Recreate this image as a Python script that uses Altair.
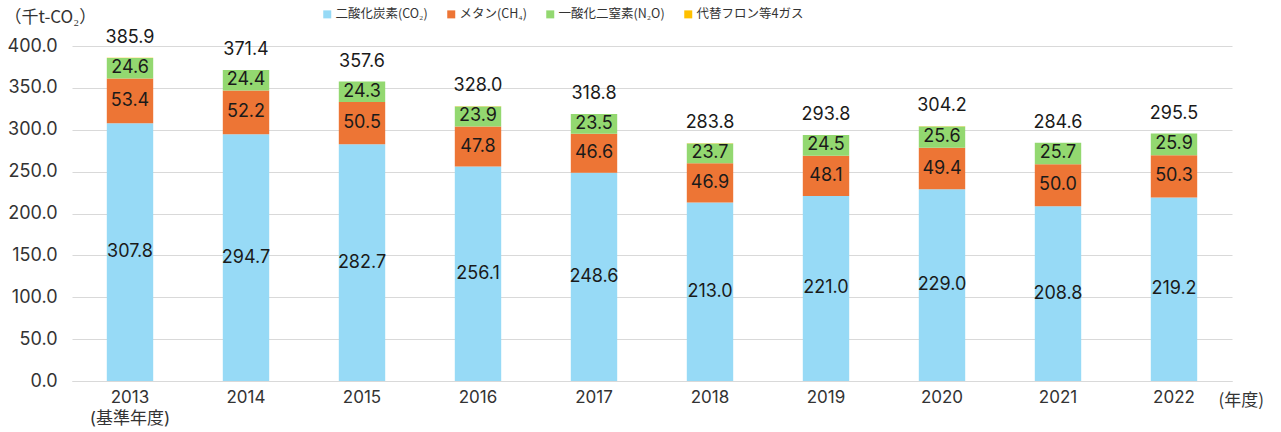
import altair as alt
import pandas as pd

years = ["2013", "2014", "2015", "2016", "2017", "2018", "2019", "2020", "2021", "2022"]
co2 = [307.8, 294.7, 282.7, 256.1, 248.6, 213.0, 221.0, 229.0, 208.8, 219.2]
ch4 = [53.4, 52.2, 50.5, 47.8, 46.6, 46.9, 48.1, 49.4, 50.0, 50.3]
n2o = [24.6, 24.4, 24.3, 23.9, 23.5, 23.7, 24.5, 25.6, 25.7, 25.9]
fgas = [0.1, 0.1, 0.1, 0.2, 0.1, 0.2, 0.2, 0.2, 0.1, 0.1]
totals = [385.9, 371.4, 357.6, 328.0, 318.8, 283.8, 293.8, 304.2, 284.6, 295.5]

gas_names = ["二酸化炭素(CO₂)", "メタン(CH₄)", "一酸化二窒素(N₂O)", "代替フロン等4ガス"]
gas_colors = ["#97DAF6", "#ED7535", "#93D870", "#FFC000"]
series = [co2, ch4, n2o, fgas]

rows = []
for gi, (g, vals) in enumerate(zip(gas_names, series)):
    for y, v in zip(years, vals):
        rows.append({"year": y, "gas": g, "value": v, "order": gi})
df = pd.DataFrame(rows)
tot_df = pd.DataFrame({"year": years, "total": totals})

FONT = "Noto Sans CJK JP"
NUMFONT = "Inter, Noto Sans CJK JP"
NUMSIZE = 18

x_enc = alt.X(
    "year:N",
    sort=years,
    scale=alt.Scale(paddingInner=0.6, paddingOuter=0.3),
    axis=alt.Axis(
        title="(年度)",
        titleAngle=0,
        titleX=1146,
        titleY=19,
        titleAlign="left",
        titleBaseline="middle",
        titleFontSize=17,
        titleFontWeight="normal",
        titleColor="#333333",
        labelAngle=0,
        labelFont=NUMFONT,
        labelFontSize=17,
        labelColor="#333333",
        labelPadding=8,
        labelLineHeight=21,
        labelExpr="datum.value == '2013' ? ['2013', '(基準年度)'] : datum.value",
        ticks=False,
        domainColor="#D9D9D9",
        grid=False,
    ),
)

base = alt.Chart(df).transform_stack(
    stack="value",
    groupby=["year"],
    sort=[alt.SortField("order", order="ascending")],
    as_=["y0", "y1"],
).transform_calculate(mid="(datum.y0 + datum.y1) / 2")

bars = base.mark_bar().encode(
    x=x_enc,
    y=alt.Y(
        "y0:Q",
        scale=alt.Scale(domain=[0, 400], nice=False),
        axis=alt.Axis(
            title="（千t-CO₂）",
            titleAngle=0,
            titleX=-68,
            titleY=-29,
            titleAlign="left",
            titleBaseline="middle",
            titleFontSize=17,
            titleFontWeight="normal",
            titleColor="#333333",
            values=[0, 50, 100, 150, 200, 250, 300, 350, 400],
            format=".1f",
            labelFont=NUMFONT,
            labelFontSize=NUMSIZE,
            labelColor="#333333",
            labelPadding=15,
            ticks=False,
            domain=False,
            gridColor="#D9D9D9",
        ),
    ),
    y2="y1:Q",
    color=alt.Color(
        "gas:N",
        scale=alt.Scale(domain=gas_names, range=gas_colors),
        legend=alt.Legend(
            title=None,
            orient="none",
            legendX=249,
            legendY=-38,
            direction="horizontal",
            symbolType="square",
            symbolSize=64,
            symbolStrokeWidth=0,
            labelFontSize=12.5,
            labelColor="#333333",
            columnPadding=17,
            labelOffset=2,
        ),
    ),
    order=alt.Order("order:Q"),
)

seg_labels = base.transform_filter(
    alt.datum.order < 3
).mark_text(font=NUMFONT, fontSize=NUMSIZE, color="#1a1a1a", baseline="middle").encode(
    x=alt.X("year:N", sort=years),
    y=alt.Y("mid:Q"),
    text=alt.Text("value:Q", format=".1f"),
)

tot_labels = alt.Chart(tot_df).mark_text(
    font=NUMFONT, fontSize=NUMSIZE, color="#1a1a1a", baseline="middle", dy=-20
).encode(
    x=alt.X("year:N", sort=years),
    y=alt.Y("total:Q"),
    text=alt.Text("total:Q", format=".1f"),
)

chart = alt.layer(bars, seg_labels, tot_labels).properties(
    width=1160,
    height=335,
    autosize=alt.AutoSizeParams(type="none"),
    padding={"left": 72, "top": 46, "right": 49, "bottom": 51},
).configure(font=FONT).configure_view(stroke=None)

chart.save("out.html", embed_options={"renderer": "svg", "actions": False})
